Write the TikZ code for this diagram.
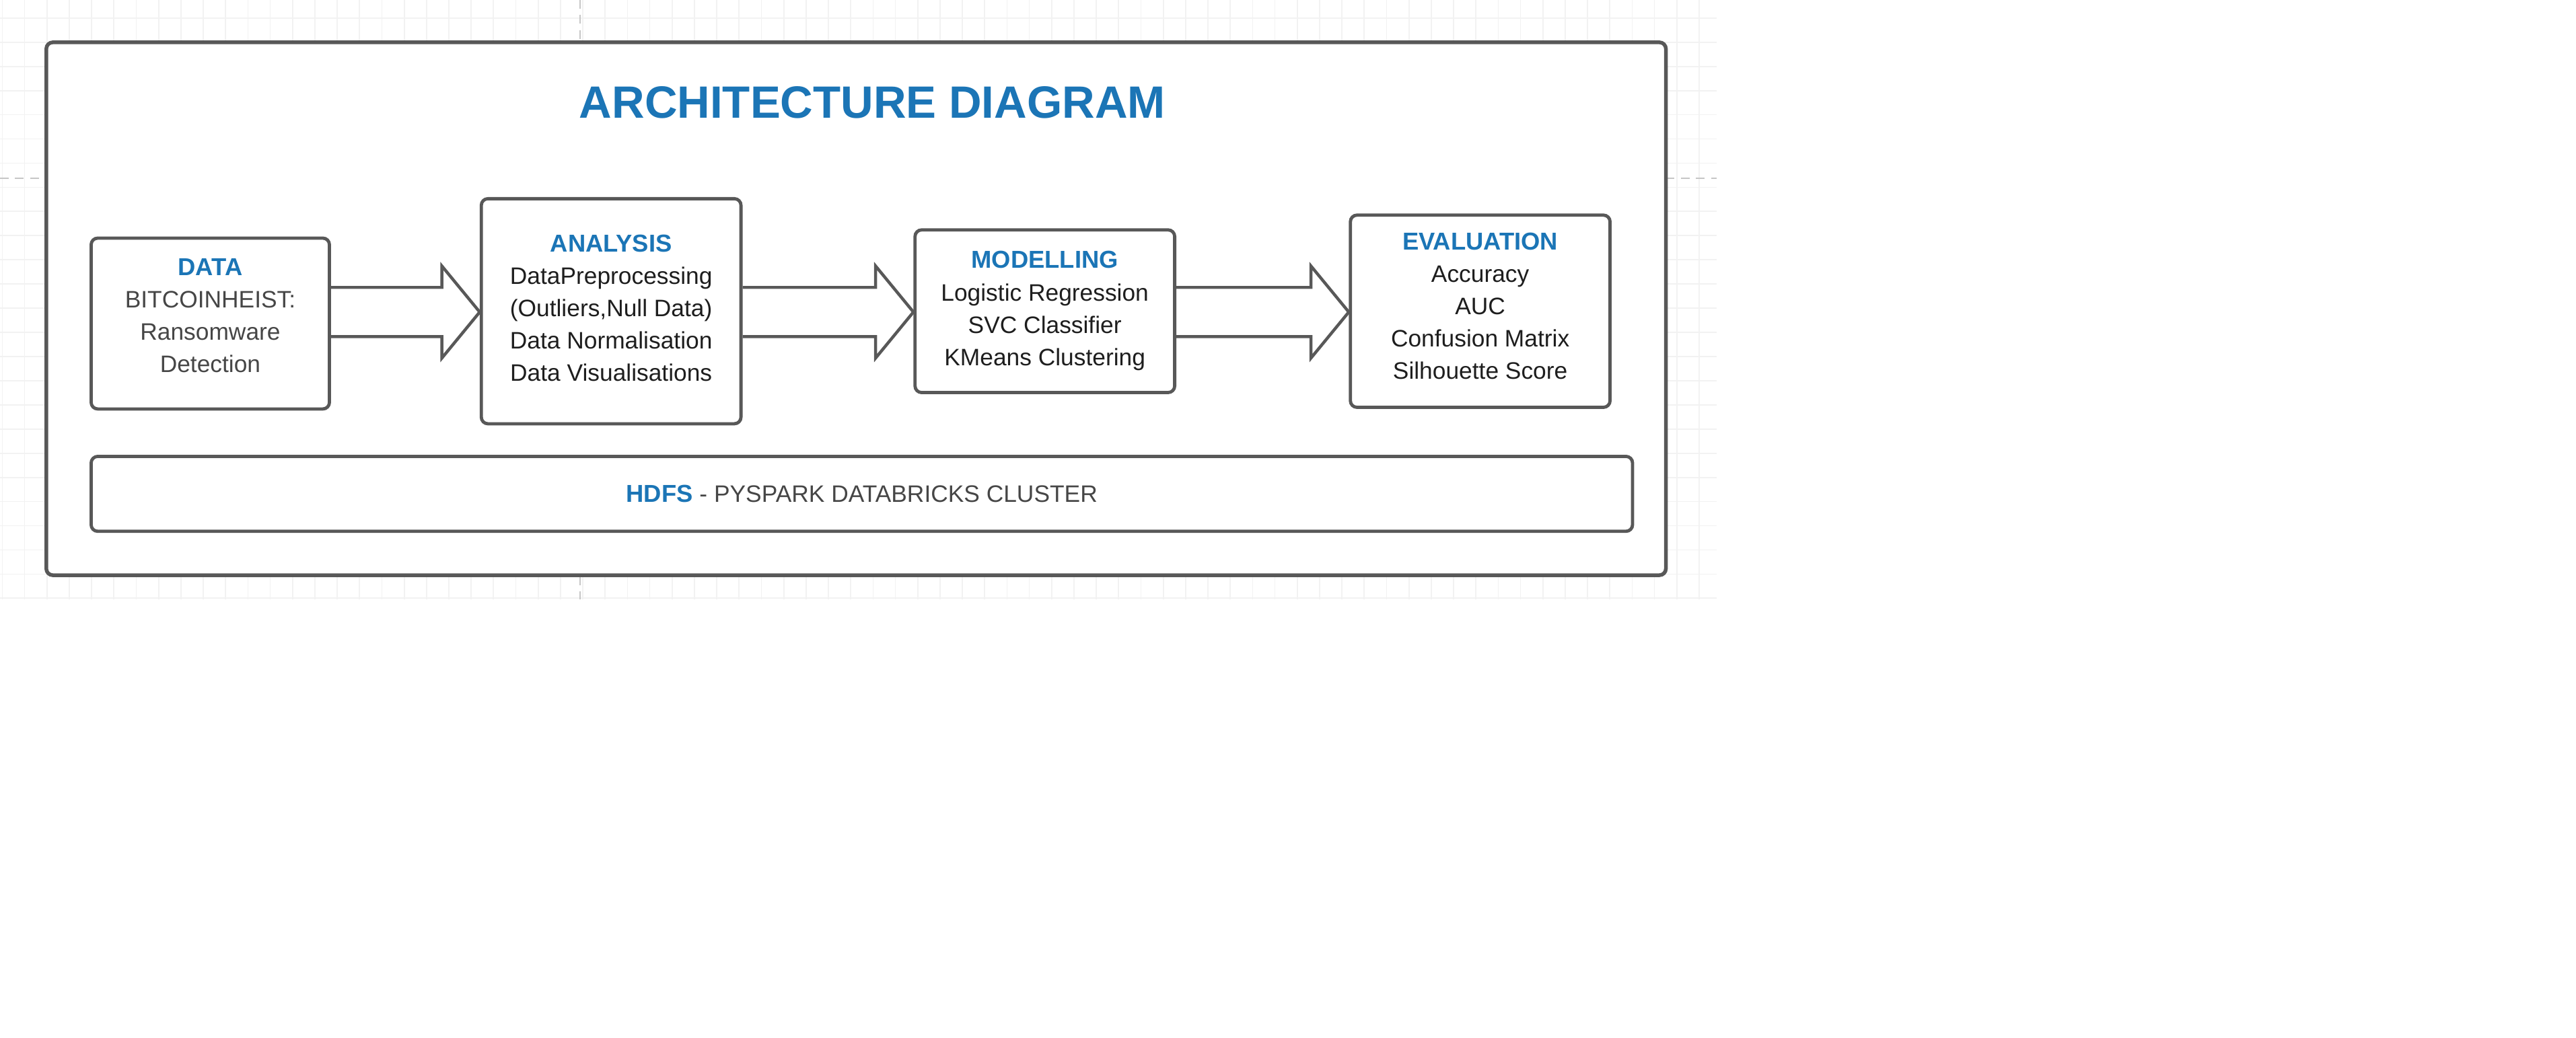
\documentclass[tikz,border=0pt]{standalone}
\usepackage{fontspec}
\setmainfont{Liberation Sans}
\usetikzlibrary{calc}

\definecolor{headblue}{RGB}{27,117,182}
\definecolor{edgegray}{RGB}{88,88,88}
\definecolor{inkdark}{RGB}{30,30,30}
\definecolor{inkgray}{RGB}{70,70,70}
\definecolor{gridgray}{RGB}{242,242,242}

\newcommand{\head}[1]{{\fontsize{10.6}{14}\selectfont\bfseries\color{headblue}#1}}
\newcommand{\lift}[1]{\rule[-#1]{0pt}{#1}}

\newcommand{\flowarrow}[2]{%
  \draw[flow] ($(#1.east|-row)+(0,-15)$) -- ($(#2.west|-row)+(-23,-15)$)
    -- ($(#2.west|-row)+(-23,-28)$) -- (#2.west|-row)
    -- ($(#2.west|-row)+(-23,28)$) -- ($(#2.west|-row)+(-23,15)$)
    -- ($(#1.east|-row)+(0,15)$);}

\begin{document}
\begin{tikzpicture}[x=0.025cm, y=-0.025cm,
    box/.style={draw=edgegray, line width=1.4pt, rounded corners=0.1cm, fill=white,
      align=center, text=inkdark, font=\fontsize{10.3}{14}\selectfont, inner sep=0pt},
    flow/.style={draw=edgegray, line width=1.3pt, line join=miter},
    gridline/.style={draw=gridgray, line width=0.5pt},
    pagebreak/.style={draw=gray!45, line width=0.6pt, dash pattern=on 0.13cm off 0.1cm}]

  \useasboundingbox (0,0) rectangle (1568,632);

  % page grid
  \foreach \i in {-1,...,75}
    \draw[gridline] (15+13.59*\i,0) -- (15+13.59*\i,365);
  \foreach \j in {0,...,24}
    \draw[gridline] (0,11+14.72*\j) -- (1045,11+14.72*\j);

  \draw[pagebreak] (0,108.5) -- (28,108.5);
  \draw[pagebreak] (1014,108.5) -- (1045,108.5);
  \draw[pagebreak] (353,0) -- (353,25);
  \draw[pagebreak] (353,351) -- (353,365);

  \node[box, line width=1.6pt, minimum width=24.64cm, minimum height=8.11cm] (frame) at (521.1,188) {};
  \node[font=\fontsize{19.6}{24}\selectfont\bfseries, text=headblue] (title) at (531,62.5) {ARCHITECTURE DIAGRAM};

  \coordinate (row) at (0,190);

  \begin{scope}[every node/.style={box}]
    \node[minimum width=3.625cm, minimum height=2.6cm, text=inkgray] (data) at (128,197)
      {\head{DATA}\\ BITCOINHEIST:\\ Ransomware\\ Detection\lift{7pt}};
    \node[minimum width=3.95cm, minimum height=3.425cm] (analysis) at (372,189.5)
      {\head{ANALYSIS}\\ DataPreprocessing\\ (Outliers,Null Data)\\ Data Normalisation\\ Data Visualisations\lift{3pt}};
    \node[minimum width=3.95cm, minimum height=2.475cm] (modelling) at (636,189.5)
      {\head{MODELLING}\\ Logistic Regression\\ SVC Classifier\\ KMeans Clustering\lift{2.5pt}};
    \node[minimum width=3.95cm, minimum height=2.925cm] (evaluation) at (901,189.5)
      {\head{EVALUATION}\\ Accuracy\\ AUC\\ Confusion Matrix\\ Silhouette Score\lift{4.5pt}};
    \node[minimum width=23.45cm, minimum height=1.14cm, text=inkgray] (hdfs) at (524.6,300.7)
      {\head{HDFS} - PYSPARK DATABRICKS CLUSTER};
  \end{scope}

  \flowarrow{data}{analysis}
  \flowarrow{analysis}{modelling}
  \flowarrow{modelling}{evaluation}

\end{tikzpicture}
\end{document}
